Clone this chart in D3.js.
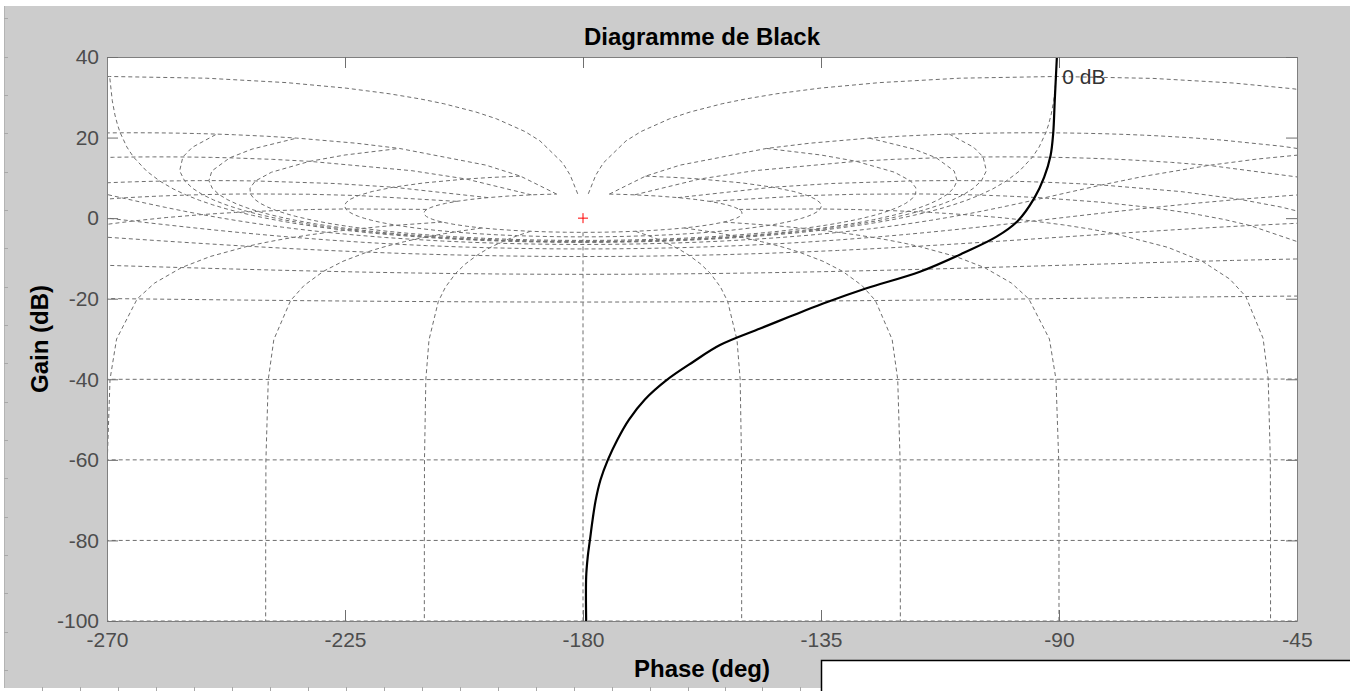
<!DOCTYPE html>
<html>
<head>
<meta charset="utf-8">
<script src="https://cdn.jsdelivr.net/npm/d3@7/dist/d3.min.js"></script>
<style>
  html, body { margin: 0; padding: 0; background: #fff; }
  svg { display: block; font-family: "Liberation Sans", Arial, sans-serif; }
</style>
</head>
<body>
<svg id="chart" width="1350" height="691"></svg>
<script>
(function () {
  'use strict';

  // axis ticks
  var phaseTicks = [-270, -225, -180, -135, -90, -45];
  var gainTicks = [-100, -80, -60, -40, -20, 0, 20, 40];

  // open-loop response (deg / dB)
  var curvePhase = [-179.4, -179.4, -179.1, -178.7, -178.2, -177.6, -176.7, -175.3, -173.5, -171.3,
    -168.3, -164.2, -159.2, -154.1, -146.5, -141.0, -134.6, -126.4, -116.3, -108.0,
    -101.8, -97.8, -94.7, -92.8, -91.6, -91.1, -90.8, -90.4];
  var curveGain = [-100, -89, -84, -80, -75, -70, -65, -60, -55, -50,
    -45, -40.2, -35.7, -31.5, -27.4, -24.5, -21.2, -17.4, -13.3, -8.6,
    -4.6, -0.7, 4.9, 10.2, 15.5, 21.0, 29.3, 40];

  // Nichols grid: closed-loop gain contours (dB) and the closed-loop phases they are sampled at
  var isoGainDb = [6, 3, 1, 0.5, 0.25, 0, -1, -3, -6, -12, -20, -40, -60, -80, -100, -120];
  var isoGainSteps = [1, 2, 3, 4, 5, 7.5, 10, 15, 20, 25, 30, 35, 40, 45, 50, 55, 60, 65, 70, 75,
    80, 85, 90, 100, 110, 120, 130, 140, 150, 160, 170, 180];
  // closed loops round the critical point are left open at the top, below this phase step
  var openLoopTopStep = 5;
  // closed-loop phase contours (deg) and the closed-loop gains they are sampled at
  var isoPhaseDeg = [1, 5, 10, 20, 30, 50, 90, 120, 150, 180];
  var isoPhaseSteps = [6, 3, 2, 1, 0.75, 0.5, 0.4, 0.3, 0.25, 0.2, 0.15, 0.1, 0.05, 0,
    -0.05, -0.1, -0.15, -0.2, -0.25, -0.3, -0.4, -0.5, -0.75, -1, -2, -3, -4, -5, -6,
    -9, -12, -16, -20, -30, -40, -60, -80, -100, -120];

  var W = 1350, H = 691;
  var plot = { left: 107, top: 57, right: 1297, bottom: 621 };

  var svg = d3.select('#chart');

  // window frame
  svg.append('rect').attr('x', 0).attr('y', 0).attr('width', W).attr('height', H).attr('fill', '#ffffff');
  svg.append('rect').attr('x', 4).attr('y', 6).attr('width', W - 4).attr('height', 682)
    .attr('fill', '#cccccc');
  svg.append('line').attr('x1', 4.5).attr('x2', 4.5).attr('y1', 6).attr('y2', 688)
    .attr('stroke', '#b4b4b4');

  // little ruler marks along the left and bottom margins
  var rulerLeft = [18, 57, 95, 133, 172, 210, 248, 287, 325, 363, 402, 440, 478, 517, 555, 593, 632, 670];
  var rulerBottom = [42, 80, 118, 156, 194, 232, 270, 308, 346, 384, 422, 460, 498, 536, 574, 612, 650, 688, 725, 762, 800];
  svg.append('g').selectAll('line').data(rulerLeft).enter().append('line')
    .attr('x1', 4).attr('x2', 8).attr('y1', function (d) { return d + 0.5; }).attr('y2', function (d) { return d + 0.5; })
    .attr('stroke', '#a8a8a8');
  svg.append('g').selectAll('line').data(rulerBottom).enter().append('line')
    .attr('x1', function (d) { return d + 0.5; }).attr('x2', function (d) { return d + 0.5; })
    .attr('y1', 687).attr('y2', 691)
    .attr('stroke', '#a8a8a8');

  var x = d3.scaleLinear().domain([-270, -45]).range([plot.left, plot.right]);
  var y = d3.scaleLinear().domain([-100, 40]).range([plot.bottom, plot.top]);

  svg.append('rect')
    .attr('x', plot.left).attr('y', plot.top)
    .attr('width', plot.right - plot.left).attr('height', plot.bottom - plot.top)
    .attr('fill', '#ffffff');

  svg.append('clipPath').attr('id', 'plot-clip')
    .append('rect')
    .attr('x', plot.left).attr('y', plot.top)
    .attr('width', plot.right - plot.left).attr('height', plot.bottom - plot.top);

  // H = z / (1 - z), z = m * exp(j p) ; returns open-loop phase in [0, 360) and gain in dB
  function openLoop(m, pDeg) {
    var p = pDeg * Math.PI / 180;
    var zr = m * Math.cos(p), zi = m * Math.sin(p);
    var dr = 1 - zr, di = -zi;
    var den = dr * dr + di * di;
    var hr = (zr * dr + zi * di) / den;
    var hi = (zi * dr - zr * di) / den;
    var ang = Math.atan2(hi, hr) * 180 / Math.PI;
    ang = ((ang % 360) + 360) % 360;
    return { ph: ang, db: 20 * Math.log10(Math.sqrt(hr * hr + hi * hi)) };
  }

  var gridLines = [];

  isoPhaseDeg.forEach(function (a) {
    var pts = isoPhaseSteps.map(function (g) { return openLoop(Math.pow(10, g / 20), a); });
    gridLines.push(pts.map(function (d) { return [-d.ph, d.db]; }));
    if (a !== 180) gridLines.push(pts.map(function (d) { return [d.ph - 360, d.db]; }));
  });

  var zeroDbLabelAt = null;
  isoGainDb.forEach(function (g) {
    var m = Math.pow(10, g / 20);
    var steps = g > 0
      ? isoGainSteps.filter(function (p) { return p >= openLoopTopStep; })
      : isoGainSteps;
    var pts = steps.map(function (p) { return openLoop(m, p); });
    var line = pts.map(function (d) { return [-d.ph, d.db]; })
      .concat(pts.slice().reverse().map(function (d) { return [d.ph - 360, d.db]; }));
    gridLines.push(line);
    if (g === 0) zeroDbLabelAt = line[0];
  });

  var lineGen = d3.line()
    .x(function (d) { return x(d[0]); })
    .y(function (d) { return y(d[1]); });

  var gridG = svg.append('g').attr('clip-path', 'url(#plot-clip)');
  gridG.selectAll('path')
    .data(gridLines)
    .enter()
    .append('path')
    .attr('d', lineGen)
    .attr('fill', 'none')
    .attr('stroke', '#6e6e6e')
    .attr('stroke-width', 1)
    .attr('stroke-dasharray', '4,3');

  // response curve
  var curvePts = curvePhase.map(function (p, i) { return [p, curveGain[i]]; });
  svg.append('g').attr('clip-path', 'url(#plot-clip)')
    .append('path')
    .datum(curvePts)
    .attr('d', lineGen.curve(d3.curveCatmullRom.alpha(0.5)))
    .attr('fill', 'none')
    .attr('stroke', '#000000')
    .attr('stroke-width', 2.2);

  // critical point
  var cx = x(-180), cy = y(0);
  svg.append('path')
    .attr('d', 'M' + (cx - 5) + ',' + cy + 'H' + (cx + 5) + 'M' + cx + ',' + (cy - 5) + 'V' + (cy + 5))
    .attr('stroke', '#ff0000')
    .attr('stroke-width', 1);

  // 0 dB contour label
  svg.append('text')
    .attr('x', x(zeroDbLabelAt[0]) + 6)
    .attr('y', y(zeroDbLabelAt[1]))
    .attr('dy', '0.35em')
    .attr('font-size', '21px')
    .attr('fill', '#333333')
    .text('0 dB');

  // axes
  function plain(d) { return String(d); }
  function styleAxis(g) {
    g.select('.domain').attr('stroke', '#7f7f7f');
    g.selectAll('.tick line').attr('stroke', '#6f6f6f');
    g.selectAll('.tick text').attr('fill', '#4d4d4d').attr('font-size', '21px')
      .attr('font-family', '"Liberation Sans", Arial, sans-serif');
  }

  svg.append('g')
    .attr('transform', 'translate(0,' + plot.bottom + ')')
    .call(d3.axisBottom(x).tickValues(phaseTicks).tickFormat(plain)
      .tickSizeInner(-11).tickSizeOuter(0).tickPadding(11))
    .call(styleAxis);
  svg.append('g')
    .attr('transform', 'translate(0,' + plot.top + ')')
    .call(d3.axisTop(x).tickValues(phaseTicks).tickSizeInner(-11).tickSizeOuter(0).tickFormat(''))
    .call(styleAxis);
  svg.append('g')
    .attr('transform', 'translate(' + plot.left + ',0)')
    .call(d3.axisLeft(y).tickValues(gainTicks).tickFormat(plain)
      .tickSizeInner(-11).tickSizeOuter(0).tickPadding(8))
    .call(styleAxis);
  svg.append('g')
    .attr('transform', 'translate(' + plot.right + ',0)')
    .call(d3.axisRight(y).tickValues(gainTicks).tickSizeInner(-11).tickSizeOuter(0).tickFormat(''))
    .call(styleAxis);

  // titles
  svg.append('text')
    .attr('x', (plot.left + plot.right) / 2)
    .attr('y', 45)
    .attr('text-anchor', 'middle')
    .attr('font-size', '24px')
    .attr('font-weight', 'bold')
    .text('Diagramme de Black');

  svg.append('text')
    .attr('x', (plot.left + plot.right) / 2)
    .attr('y', 677)
    .attr('text-anchor', 'middle')
    .attr('font-size', '24px')
    .attr('font-weight', 'bold')
    .text('Phase (deg)');

  svg.append('text')
    .attr('transform', 'translate(48,' + ((plot.top + plot.bottom) / 2) + ') rotate(-90)')
    .attr('text-anchor', 'middle')
    .attr('font-size', '24px')
    .attr('font-weight', 'bold')
    .text('Gain (dB)');

  // window overlapping the bottom right corner
  svg.append('rect')
    .attr('x', 821.5).attr('y', 660.5)
    .attr('width', 600).attr('height', 60)
    .attr('fill', '#ffffff')
    .attr('stroke', '#000000')
    .attr('stroke-width', 1.5);
})();
</script>
</body>
</html>
